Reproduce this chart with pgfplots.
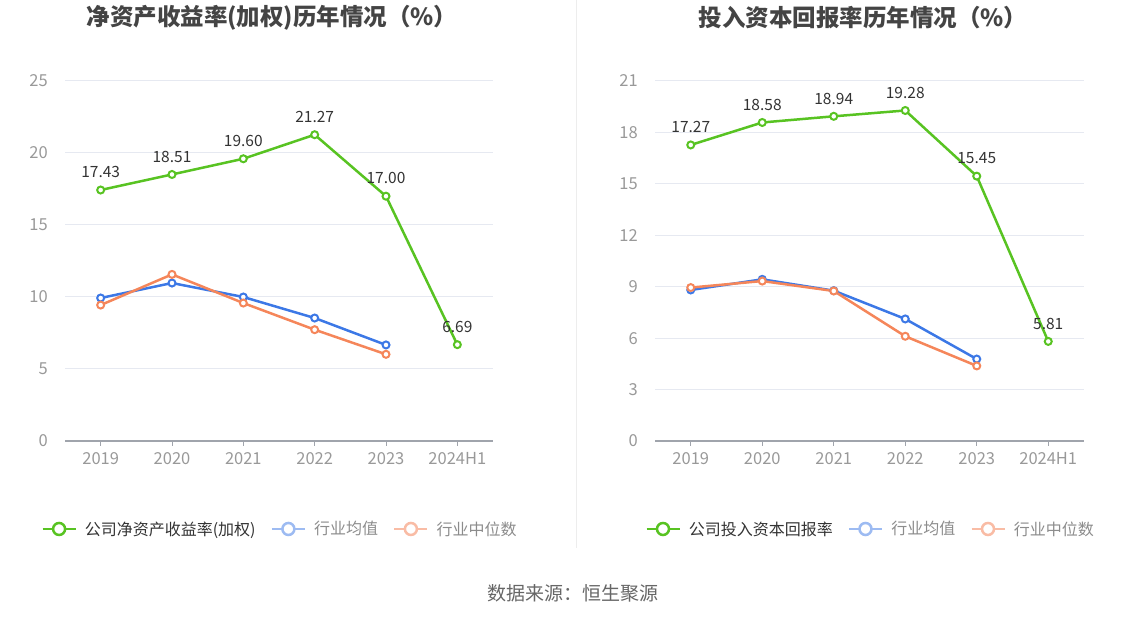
\documentclass[border=0pt]{standalone}
\usepackage{fontspec}
\setmainfont{Noto Sans CJK SC}
\usepackage{pgfplots}
\pgfplotsset{compat=1.18}
\definecolor{cgreen}{HTML}{58C322}
\definecolor{cblue}{HTML}{3C78E6}
\definecolor{corange}{HTML}{F5865A}
\definecolor{lblue}{HTML}{9DBBF2}
\definecolor{lorange}{HTML}{F9BCA5}
\definecolor{gridc}{HTML}{E6E9F1}
\definecolor{axisc}{HTML}{A0A4AC}
\definecolor{tickc}{HTML}{999999}
\definecolor{titlec}{HTML}{444444}
\definecolor{labc}{HTML}{333333}
\definecolor{legc}{HTML}{333333}
\definecolor{leggray}{HTML}{8C8C8C}
\newcommand{\lfont}{\fontsize{15.5bp}{18bp}\selectfont}
\newcommand{\tfont}{\fontsize{16.5bp}{19bp}\selectfont}
\newcommand{\gfont}{\fontsize{16bp}{19bp}\selectfont}
\pgfplotsset{
  mystyle/.style={
    scale only axis, height=360bp,
    xmin=-0.5, xmax=5.5, ymin=0,
    xtick={0,...,5}, xticklabels={2019,2020,2021,2022,2023,2024H1},
    axis x line*=bottom, axis y line*=left,
    y axis line style={draw=none},
    x axis line style={axisc, line width=1.2bp},
    ytick style={draw=none},
    xtick style={axisc, line width=1bp},
    tick align=outside, major tick length=5bp,
    ymajorgrids, grid style={gridc, line width=1bp},
    tick label style={font=\tfont, text=tickc},
    /pgf/number format/assume math mode=true,
    yticklabel style={inner sep=0pt, xshift=-12bp},
    xticklabel style={inner sep=0pt, yshift=-6bp},
    clip=false,
    legend style={at={(0.5,-0.2444)}, anchor=center, draw=none, fill=none,
      legend columns=3, font=\gfont,
      /tikz/every odd column/.append style={column sep=8bp},
      /tikz/every even column/.append style={column sep=15bp},
      nodes={inner sep=0pt}},
  },
  lineG/.style={cgreen, line width=2.5bp, mark=*, mark size=3.5bp,
    mark options={fill=white, line width=2bp, solid},
    point meta=explicit symbolic, nodes near coords,
    every node near coord/.append style={font=\lfont, text=labc, inner sep=0pt, anchor=south, yshift=11bp},
    legend image code/.code={\draw[cgreen, line width=2.5bp] (0bp,0bp) -- (33bp,0bp);
      \draw[cgreen, line width=2.5bp, fill=white] (16.5bp,0bp) circle (6bp);}},
  lineB/.style={cblue, line width=2.5bp, mark=*, mark size=3.5bp,
    mark options={fill=white, line width=2bp, solid},
    legend image code/.code={\draw[lblue, line width=2.5bp] (0bp,0bp) -- (33bp,0bp);
      \draw[lblue, line width=2.5bp, fill=white] (16.5bp,0bp) circle (6bp);}},
  lineO/.style={corange, line width=2.5bp, mark=*, mark size=3.5bp,
    mark options={fill=white, line width=2bp, solid},
    legend image code/.code={\draw[lorange, line width=2.5bp] (0bp,0bp) -- (33bp,0bp);
      \draw[lorange, line width=2.5bp, fill=white] (16.5bp,0bp) circle (6bp);}},
}
\begin{document}
\begin{tikzpicture}
\path[use as bounding box] (0,0) rectangle (1147bp,619bp);
\draw[color=black!7, line width=1bp] (576bp,619bp) -- (576bp,71bp);
\node[font=\fontsize{23.5bp}{27bp}\selectfont\bfseries, text=titlec] at (272bp,601bp) {净资产收益率(加权)历年情况（\%）};
\node[font=\fontsize{23.5bp}{27bp}\selectfont\bfseries, text=titlec] at (863bp,601bp) {投入资本回报率历年情况（\%）};
\node[font=\fontsize{19bp}{22bp}\selectfont, text=black!60] at (573bp,26bp) {数据来源：恒生聚源};

\begin{axis}[mystyle, at={(65bp,178bp)}, anchor=south west, width=428bp,
  ymax=25, ytick={0,5,10,15,20,25}]
\addplot[lineG] coordinates {(0,17.43)[17.43] (1,18.51)[18.51] (2,19.60)[19.60] (3,21.27)[21.27] (4,17.00)[17.00] (5,6.69)[6.69]};
\addlegendentry{\textcolor{legc}{公司净资产收益率(加权)}}
\addplot[lineB] coordinates {(0,9.93) (1,10.97) (2,10.00) (3,8.54) (4,6.67)};
\addlegendentry{\textcolor{leggray}{行业均值}}
\addplot[lineO] coordinates {(0,9.44) (1,11.57) (2,9.58) (3,7.73) (4,6.02)};
\addlegendentry{\textcolor{leggray}{行业中位数}}
\end{axis}

\begin{axis}[mystyle, at={(655bp,178bp)}, anchor=south west, width=429bp,
  ymax=21, ytick={0,3,6,9,12,15,18,21}]
\addplot[lineG] coordinates {(0,17.27)[17.27] (1,18.58)[18.58] (2,18.94)[18.94] (3,19.28)[19.28] (4,15.45)[15.45] (5,5.81)[5.81]};
\addlegendentry{\textcolor{legc}{公司投入资本回报率}}
\addplot[lineB] coordinates {(0,8.81) (1,9.43) (2,8.77) (3,7.12) (4,4.78)};
\addlegendentry{\textcolor{leggray}{行业均值}}
\addplot[lineO] coordinates {(0,8.95) (1,9.33) (2,8.75) (3,6.11) (4,4.38)};
\addlegendentry{\textcolor{leggray}{行业中位数}}
\end{axis}
\end{tikzpicture}
\end{document}
